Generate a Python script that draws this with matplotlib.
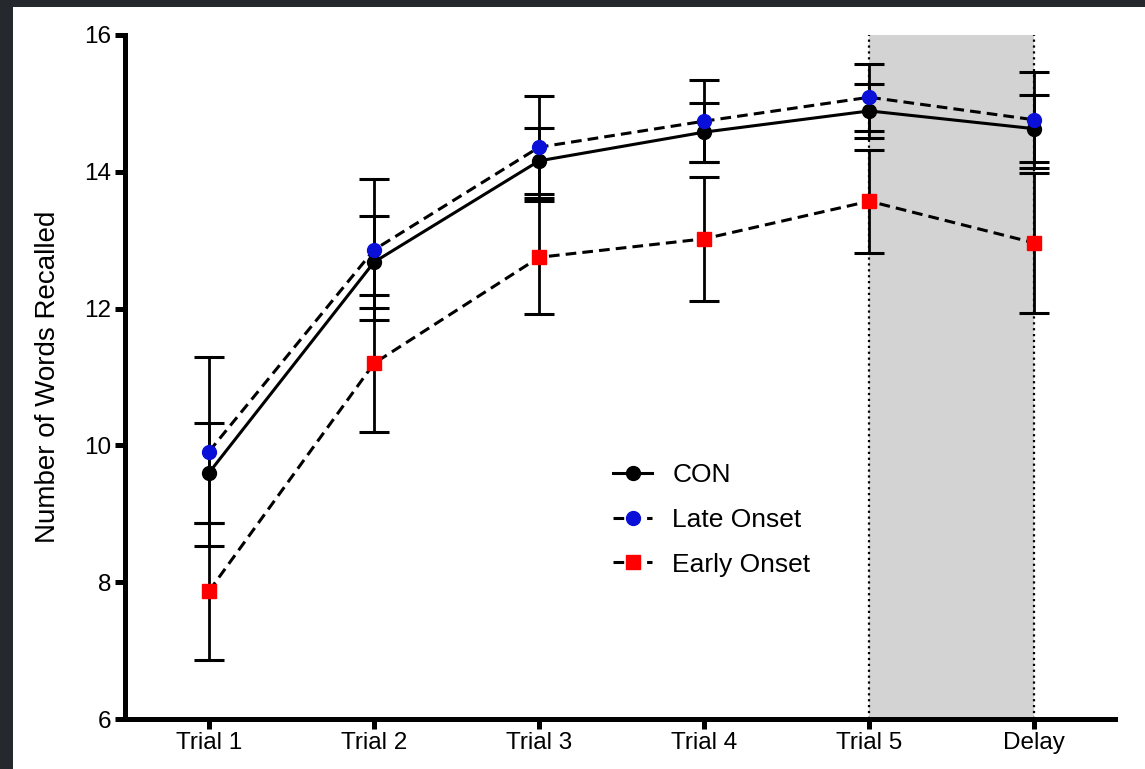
import matplotlib
matplotlib.use('Agg')
import matplotlib.pyplot as plt
from matplotlib.patches import Rectangle
import numpy as np

plt.rcParams['font.family'] = ['Liberation Sans', 'DejaVu Sans']

# Data
trials = ['Trial 1', 'Trial 2', 'Trial 3', 'Trial 4', 'Trial 5', 'Delay']
con_mean = [9.60, 12.68, 14.16, 14.58, 14.89, 14.63]
con_err = [0.73, 0.67, 0.48, 0.43, 0.39, 0.49]
late_mean = [9.91, 12.86, 14.36, 14.74, 15.09, 14.76]
late_err = [1.38, 1.03, 0.75, 0.60, 0.49, 0.70]
early_mean = [7.87, 11.20, 12.75, 13.02, 13.57, 12.96]
early_err = [1.00, 1.00, 0.83, 0.91, 0.75, 1.02]

x = np.arange(len(trials))

fig = plt.figure(figsize=(11.45, 7.69), dpi=100)
fig.patch.set_facecolor('#3a3d42')
# dotted dark frame with the white card on top
fig.patches.append(Rectangle((0, 0), 1, 1, transform=fig.transFigure,
                             facecolor='#3a3d42', edgecolor='#25282c',
                             hatch='OOOOOOO', lw=0, zorder=-2))
fig.patches.append(Rectangle((13 / 1145, 0), 1, 1 - 7 / 769,
                             transform=fig.transFigure, facecolor='white',
                             lw=0, zorder=-1))

ax = fig.add_axes([0.109, 0.065, 0.865, 0.8895])
ax.set_facecolor('none')

# shaded delay interval
ax.axvspan(4, 5, color='#d3d3d3', lw=0, zorder=0)
ax.vlines([4, 5], 6, 16, colors='black', linestyles=':', lw=1.6, zorder=1)

eb = dict(fmt='none', ecolor='black', elinewidth=2.0, capsize=11,
          capthick=2.2, zorder=2)
ax.errorbar(x, con_mean, yerr=con_err, **eb)
ax.errorbar(x, late_mean, yerr=late_err, **eb)
ax.errorbar(x, early_mean, yerr=early_err, **eb)

l1, = ax.plot(x, con_mean, '-', color='black', lw=2.2, marker='o',
              mfc='black', mec='black', ms=10, zorder=3, label='CON')
l2, = ax.plot(x, late_mean, '--', color='black', lw=2.2, marker='o',
              mfc='#0a10d8', mec='#0a10d8', ms=10, zorder=3,
              label='Late Onset', dashes=(3.5, 2))
l3, = ax.plot(x, early_mean, '--', color='black', lw=2.2, marker='s',
              mfc='#ff0000', mec='#ff0000', ms=10, zorder=4,
              label='Early Onset', dashes=(3.5, 2))

ax.set_xlim(-0.51, 5.49)
ax.set_ylim(6, 16)
ax.set_yticks([6, 8, 10, 12, 14, 16])
ax.set_xticks(x)
ax.set_xticklabels(trials)

for side in ['top', 'right']:
    ax.spines[side].set_visible(False)
for side in ['left', 'bottom']:
    ax.spines[side].set_linewidth(3.6)
ax.tick_params(axis='both', direction='out', length=7.5, width=3.6,
               labelsize=17.5, pad=2)
ax.set_ylabel('Number of Words Recalled', fontsize=20, labelpad=17)

ax.legend(handles=[l1, l2, l3], loc='center left',
          bbox_to_anchor=(0.482, 0.291), borderaxespad=0, frameon=False,
          fontsize=19, handlelength=1.5, handletextpad=0.76,
          labelspacing=0.78)

fig.savefig('out.png', dpi=100, facecolor=fig.get_facecolor())
